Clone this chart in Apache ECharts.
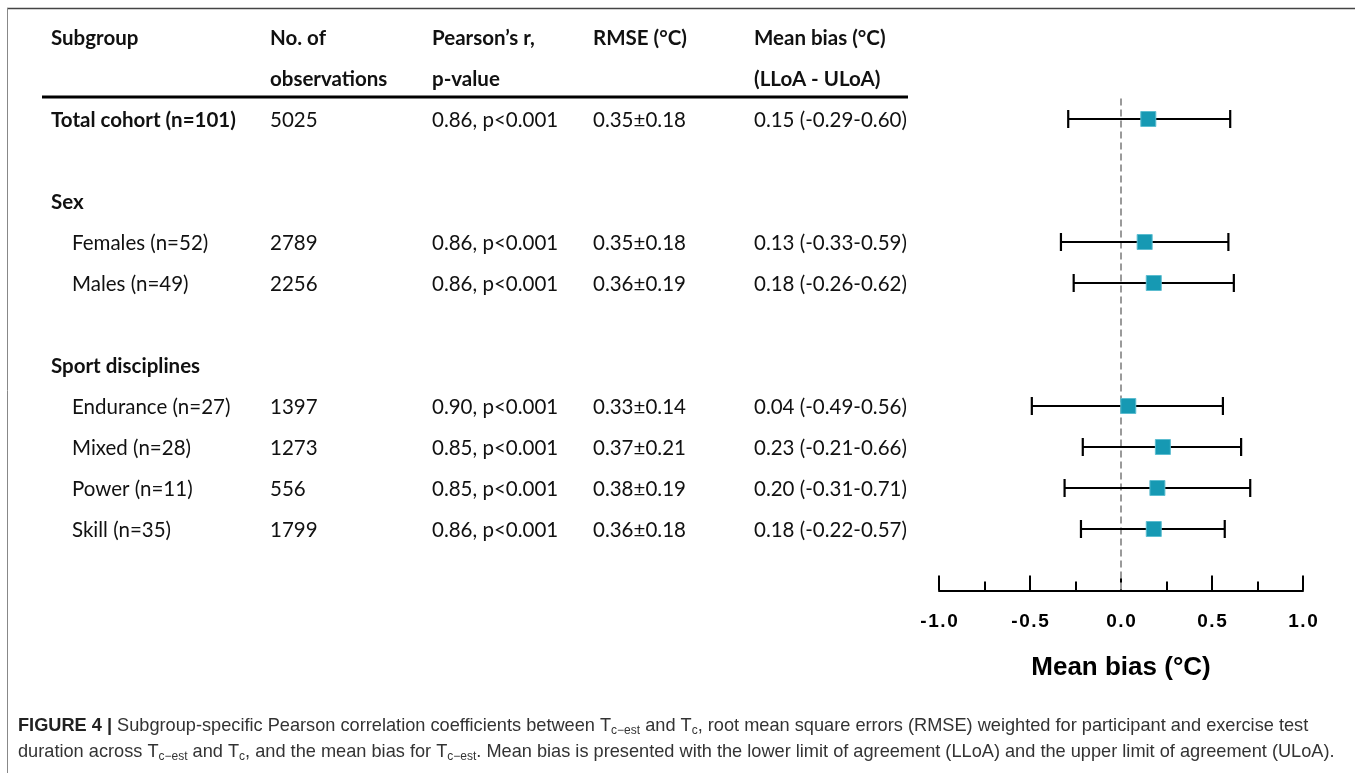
<!DOCTYPE html>
<html>
<head>
<meta charset="utf-8">
<style>
  html, body { margin: 0; padding: 0; background: #fff; }
  #chart { width: 1355px; height: 773px; }
</style>
<script src="https://cdn.jsdelivr.net/npm/echarts@6/dist/echarts.min.js"></script>
</head>
<body>
<div id="chart"></div>
<script>
// Subgroup rows of the forest plot
const subgroups = ['Total cohort (n=101)', 'Females (n=52)', 'Males (n=49)', 'Endurance (n=27)', 'Mixed (n=28)', 'Power (n=11)', 'Skill (n=35)'];
const rowIndex = [2, 5, 6, 9, 10, 11, 12];
const boldRow = [true, false, false, false, false, false, false];
const observations = [5025, 2789, 2256, 1397, 1273, 556, 1799];
const pearsonR = [0.86, 0.86, 0.86, 0.90, 0.85, 0.85, 0.86];
const pValues = ['p<0.001', 'p<0.001', 'p<0.001', 'p<0.001', 'p<0.001', 'p<0.001', 'p<0.001'];
const rmseMean = [0.35, 0.35, 0.36, 0.33, 0.37, 0.38, 0.36];
const rmseSd = [0.18, 0.18, 0.19, 0.14, 0.21, 0.19, 0.18];
const meanBias = [0.15, 0.13, 0.18, 0.04, 0.23, 0.20, 0.18];
const lloa = [-0.29, -0.33, -0.26, -0.49, -0.21, -0.31, -0.22];
const uloa = [0.60, 0.59, 0.62, 0.56, 0.66, 0.71, 0.57];

// Group headings and column headers
const groupHeadings = ['Sex', 'Sport disciplines'];
const groupRows = [4, 8];
const headerLine1 = ['Subgroup', 'No. of', 'Pearson\u2019s r,', 'RMSE (\u00b0C)', 'Mean bias (\u00b0C)'];
const headerLine2 = ['', 'observations', 'p-value', '', '(LLoA - ULoA)'];

// Axis settings
const axisMin = -1.0, axisMax = 1.0, axisInterval = 0.5;
const axisTitle = 'Mean bias (\u00b0C)';

const colX = [51, 270, 432, 593, 754];
const indentX = 72;
const tableFont = 'Lato, "Open Sans", sans-serif';
const tableSize = 20.5;
const rowShift = 1.5;
const hair = '\u200a';
const spaced = s => s.split('').join(hair);

// Build one table record per text row (boldFirst: only the first cell is bold)
const tableRows = [];
tableRows.push({ row: 0, boldAll: true, cells: headerLine1 });
tableRows.push({ row: 1, boldAll: true, cells: headerLine2 });
groupHeadings.forEach((g, i) => tableRows.push({ row: groupRows[i], boldAll: true, cells: [g, '', '', '', ''] }));
subgroups.forEach((s, i) => {
  tableRows.push({
    row: rowIndex[i],
    boldFirst: boldRow[i],
    indent: !boldRow[i],
    cells: [
      s,
      String(observations[i]),
      pearsonR[i].toFixed(2) + ', ' + pValues[i],
      rmseMean[i].toFixed(2) + '\u00b1' + rmseSd[i].toFixed(2),
      meanBias[i].toFixed(2) + ' (' + lloa[i].toFixed(2) + '-' + uloa[i].toFixed(2) + ')'
    ]
  });
});

const captionFont = '"Liberation Sans", Arial, sans-serif';
const captionSize = 18.2;

const chart = echarts.init(document.getElementById('chart'), null, { renderer: 'canvas' });

const option = {
  backgroundColor: '#fff',
  animation: false,
  grid: { left: 939, right: 52, top: 16.5, height: 574, containLabel: false },
  xAxis: {
    type: 'value',
    min: axisMin, max: axisMax, interval: axisInterval,
    position: 'bottom',
    splitLine: { show: false },
    axisLine: { show: true, onZero: false, lineStyle: { color: '#000', width: 2 } },
    axisTick: { show: true, inside: true, length: 15, lineStyle: { color: '#000', width: 2 } },
    minorTick: { show: true, splitNumber: 2, length: 9, lineStyle: { color: '#000', width: 2 } },
    axisLabel: {
      margin: 22,
      fontFamily: '"Liberation Sans", Arial, sans-serif',
      fontWeight: 'bold', fontSize: 19, color: '#000',
      formatter: v => spaced(v.toFixed(1))
    },
    name: axisTitle,
    nameLocation: 'middle',
    nameGap: 64,
    nameTextStyle: {
      fontFamily: '"Liberation Sans", Arial, sans-serif',
      fontWeight: 'bold', fontSize: 26, color: '#000'
    }
  },
  yAxis: {
    type: 'value', inverse: true, min: -0.5, max: 13.5,
    show: false
  },
  graphic: [
    // figure frame
    { type: 'line', shape: { x1: 7, y1: 8.5, x2: 1355, y2: 8.5 }, style: { stroke: '#444', lineWidth: 1.5 } },
    { type: 'line', shape: { x1: 7.5, y1: 8, x2: 7.5, y2: 773 }, style: { stroke: '#888', lineWidth: 1 } },
    // header underline
    { type: 'line', shape: { x1: 42, y1: 97, x2: 908, y2: 97 }, style: { stroke: '#000', lineWidth: 3 } },
    // caption
    {
      type: 'text', left: 18, top: 715,
      style: {
        text: '{b|FIGURE 4 |} Subgroup-specific Pearson correlation coefficients between T{s|c\u2212est} and T{s|c}, root mean square errors (RMSE) weighted for participant and exercise test',
        fontFamily: captionFont,
        fontSize: captionSize, lineHeight: 22, fill: '#333',
        rich: {
          b: { fontWeight: 'bold', fontSize: captionSize, fill: '#222', fontFamily: captionFont },
          s: { fontSize: 12, lineHeight: 12, verticalAlign: 'bottom', fontFamily: captionFont }
        }
      }
    },
    {
      type: 'text', left: 18, top: 741,
      style: {
        text: 'duration across T{s|c\u2212est} and T{s|c}, and the mean bias for T{s|c\u2212est}. Mean bias is presented with the lower limit of agreement (LLoA) and the upper limit of agreement (ULoA).',
        fontFamily: captionFont,
        fontSize: captionSize, lineHeight: 22, fill: '#333',
        rich: {
          s: { fontSize: 12, lineHeight: 12, verticalAlign: 'bottom', fontFamily: captionFont }
        }
      }
    }
  ],
  series: [
    // table text, placed on the plot's row scale
    {
      type: 'custom',
      silent: true,
      data: tableRows.map(r => [0, r.row]),
      renderItem: (params, api) => {
        const r = tableRows[params.dataIndex];
        const y = api.coord([0, r.row])[1] + rowShift;
        const children = r.cells.map((t, c) => ({
          type: 'text',
          style: {
            text: t,
            x: c === 0 && r.indent ? indentX : colX[c],
            y: y,
            verticalAlign: 'middle',
            align: 'left',
            fontFamily: tableFont,
            fontSize: tableSize,
            fontWeight: (r.boldAll || (r.boldFirst && c === 0)) ? 'bold' : 'normal',
            fill: '#111'
          }
        }));
        return { type: 'group', children };
      }
    },
    // zero reference line
    {
      type: 'line',
      silent: true,
      symbol: 'none',
      data: [[0, 1.5], [0, 13.5]],
      lineStyle: { color: '#9a9a9a', width: 2, type: [7, 4] },
      z: 1
    },
    // limits of agreement
    {
      type: 'custom',
      silent: true,
      data: subgroups.map((s, i) => [lloa[i], uloa[i], rowIndex[i]]),
      renderItem: (params, api) => {
        const lo = api.coord([api.value(0), api.value(2)]);
        const hi = api.coord([api.value(1), api.value(2)]);
        const cap = 9;
        const st = { stroke: '#000', lineWidth: 2.2 };
        return {
          type: 'group',
          children: [
            { type: 'line', shape: { x1: lo[0], y1: lo[1], x2: hi[0], y2: hi[1] }, style: st },
            { type: 'line', shape: { x1: lo[0], y1: lo[1] - cap, x2: lo[0], y2: lo[1] + cap }, style: st },
            { type: 'line', shape: { x1: hi[0], y1: hi[1] - cap, x2: hi[0], y2: hi[1] + cap }, style: st }
          ]
        };
      },
      z: 2
    },
    // mean bias
    {
      type: 'scatter',
      silent: true,
      symbol: 'rect',
      symbolSize: 15,
      data: subgroups.map((s, i) => [meanBias[i], rowIndex[i]]),
      itemStyle: { color: '#1699b3', borderColor: '#5cbdd0', borderWidth: 1, opacity: 1 },
      z: 3
    }
  ]
};

chart.setOption(option);
</script>
</body>
</html>
